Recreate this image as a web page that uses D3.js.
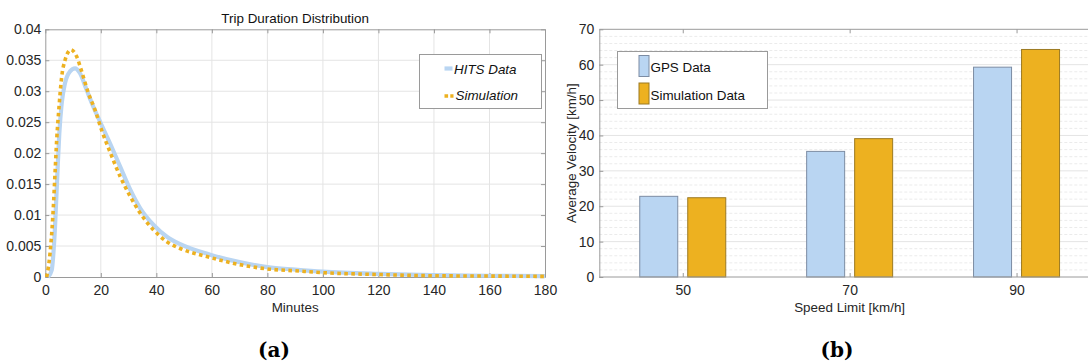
<!DOCTYPE html>
<html>
<head>
<meta charset="utf-8">
<script src="https://cdn.jsdelivr.net/npm/d3@7"></script>
<style>
  html, body { margin: 0; padding: 0; background: #fff; }
  svg { display: block; font-family: "Liberation Sans", Arial, sans-serif; }
  .axis path, .axis line { stroke: #9a9a9a; }
  .axis text { fill: #262626; font-size: 14px; font-family: "Liberation Sans", Arial, sans-serif; }
</style>
</head>
<body>
<svg id="fig" width="1088" height="363"></svg>
<script>
// ---- (a) Trip duration distribution ----
const hitsMinutes = [1.0, 2.3, 3.5, 4.35, 5.05, 5.9, 7.1, 8.9, 10.7, 12.5, 14.9, 17.3, 19.7, 23.3, 27, 30.6, 34.2, 39, 43.8, 48.6, 59.4, 70, 80, 90, 100, 120, 140, 160, 180];
const hitsDensity = [0, 0.0011, 0.0081, 0.0167, 0.0232, 0.0280, 0.0313, 0.0332, 0.0337, 0.0329, 0.0302, 0.0275, 0.0251, 0.0216, 0.0178, 0.0141, 0.0111, 0.0084, 0.0065, 0.0053, 0.0036, 0.0024, 0.0016, 0.0012, 0.00086, 0.0005, 0.0003, 0.0002, 0.00015];
const simMinutes = [0.5, 1.7, 2.7, 3.5, 4.1, 4.95, 5.9, 7.1, 9.2, 11.3, 13.1, 15.5, 17.9, 20.3, 23.3, 27, 30.6, 34.2, 39, 43.8, 48.6, 58.2, 70, 80, 90, 100, 120, 140, 160, 180];
const simDensity = [0, 0.0038, 0.0097, 0.0167, 0.0221, 0.0275, 0.0323, 0.0350, 0.0367, 0.0356, 0.0332, 0.0297, 0.0270, 0.0237, 0.0202, 0.0162, 0.0130, 0.0103, 0.0076, 0.0057, 0.0046, 0.0033, 0.0020, 0.0013, 0.0010, 0.0007, 0.0004, 0.0002, 0.00015, 0.0001];
const minuteTicks = [0, 20, 40, 60, 80, 100, 120, 140, 160, 180];
const densityTicks = [0, 0.005, 0.01, 0.015, 0.02, 0.025, 0.03, 0.035, 0.04];
const densityTickLabels = ["0", "0.005", "0.01", "0.015", "0.02", "0.025", "0.03", "0.035", "0.04"];
const lineSeriesNames = ["HITS Data", "Simulation"];

// ---- (b) Average velocity per speed limit ----
const speedLimits = ["50", "70", "90"];
const gpsVelocity = [22.8, 35.5, 59.3];
const simVelocity = [22.4, 39.1, 64.3];
const velocityTicks = [0, 10, 20, 30, 40, 50, 60, 70];
const barSeriesNames = ["GPS Data", "Simulation Data"];

const BLUE = "#b9d5f2";
const ORANGE = "#edb120";
const AXIS = "#9a9a9a";
const GRID = "#e4e4e4";
const LABEL_SIZE = 13.4;

const svg = d3.select("#fig");

// ===================== panel (a) =====================
const A = { left: 45.3, right: 545, top: 29.3, bottom: 277 };
const xA = d3.scaleLinear().domain([0, 180]).range([A.left, A.right]);
const yA = d3.scaleLinear().domain([0, 0.04]).range([A.bottom, A.top]);
const gA = svg.append("g");

// grid
gA.append("g").selectAll("line").data(minuteTicks.slice(1, -1)).join("line")
  .attr("x1", d => xA(d)).attr("x2", d => xA(d))
  .attr("y1", A.top).attr("y2", A.bottom)
  .attr("stroke", GRID).attr("stroke-width", 1);
gA.append("g").selectAll("line").data(densityTicks.slice(1, -1)).join("line")
  .attr("x1", A.left).attr("x2", A.right)
  .attr("y1", d => yA(d)).attr("y2", d => yA(d))
  .attr("stroke", GRID).attr("stroke-width", 1);

// axes with inward ticks, plus box edges
gA.append("g").attr("class", "axis").attr("transform", `translate(0,${A.bottom})`)
  .call(d3.axisBottom(xA).tickValues(minuteTicks).tickSize(-4).tickSizeOuter(0).tickPadding(8).tickFormat(d3.format("d")));
gA.append("g").attr("class", "axis").attr("transform", `translate(${A.left},0)`)
  .call(d3.axisLeft(yA).tickValues(densityTicks).tickSize(-4).tickSizeOuter(0).tickPadding(4)
    .tickFormat((d, i) => densityTickLabels[i]));
gA.append("g").attr("class", "axis").attr("transform", `translate(0,${A.top})`)
  .call(d3.axisTop(xA).tickValues(minuteTicks).tickSize(-4).tickSizeOuter(0).tickFormat(""));
gA.append("g").attr("class", "axis").attr("transform", `translate(${A.right},0)`)
  .call(d3.axisRight(yA).tickValues(densityTicks).tickSize(-4).tickSizeOuter(0).tickFormat(""));

// curves
const lineGen = d3.line().x(d => xA(d[0])).y(d => yA(d[1])).curve(d3.curveMonotoneX);
gA.append("path")
  .datum(d3.zip(hitsMinutes, hitsDensity))
  .attr("d", lineGen).attr("fill", "none")
  .attr("stroke", BLUE).attr("stroke-width", 4.2).attr("stroke-linejoin", "round");
gA.append("path")
  .datum(d3.zip(simMinutes, simDensity))
  .attr("d", lineGen).attr("fill", "none")
  .attr("stroke", ORANGE).attr("stroke-width", 3.6).attr("stroke-dasharray", "3.6,3.4");

// title and x label
gA.append("text").attr("x", (A.left + A.right) / 2).attr("y", 23)
  .attr("text-anchor", "middle").attr("font-size", LABEL_SIZE).attr("fill", "#111")
  .text("Trip Duration Distribution");
gA.append("text").attr("x", (A.left + A.right) / 2).attr("y", 312)
  .attr("text-anchor", "middle").attr("font-size", LABEL_SIZE).attr("fill", "#262626")
  .text("Minutes");

// legend
const legA = gA.append("g").attr("transform", "translate(419.5,54.5)");
legA.append("rect").attr("width", 122).attr("height", 54)
  .attr("fill", "#fff").attr("stroke", AXIS).attr("stroke-width", 1);
legA.append("line").attr("x1", 25).attr("x2", 33).attr("y1", 14).attr("y2", 14)
  .attr("stroke", BLUE).attr("stroke-width", 4.2);
legA.append("line").attr("x1", 25).attr("x2", 34).attr("y1", 41.5).attr("y2", 41.5)
  .attr("stroke", ORANGE).attr("stroke-width", 3.6).attr("stroke-dasharray", "3.6,2.2");
legA.selectAll("text.lab").data(lineSeriesNames).join("text")
  .attr("class", "lab")
  .attr("x", (d, i) => i === 0 ? 34.5 : 36)
  .attr("y", (d, i) => i === 0 ? 19.5 : 45.5)
  .attr("font-size", LABEL_SIZE).attr("font-style", "italic").attr("fill", "#111")
  .text(d => d);

// sub-caption
svg.append("text").attr("x", 274).attr("y", 357)
  .attr("text-anchor", "middle").attr("font-size", 20).attr("font-weight", "bold")
  .attr("font-family", "'DejaVu Serif', 'Liberation Serif', serif").attr("fill", "#000")
  .text("(a)");

// ===================== panel (b) =====================
const B = { left: 599.3, right: 1100, top: 29.3, bottom: 277 };
const xB = d3.scaleBand().domain(speedLimits).range([B.left, B.right]).paddingInner(0).paddingOuter(0);
const xSub = d3.scaleBand().domain(barSeriesNames).range([-43, 43]).paddingInner(0.2083).paddingOuter(0);
const yB = d3.scaleLinear().domain([0, 70]).range([B.bottom, B.top]);
const gB = svg.append("g");

// minor (dashed) and major grid
const minorTicks = d3.range(2, 70, 2).filter(v => v % 10 !== 0);
gB.append("g").selectAll("line").data(minorTicks).join("line")
  .attr("x1", B.left).attr("x2", B.right)
  .attr("y1", d => yB(d)).attr("y2", d => yB(d))
  .attr("stroke", "#ebebeb").attr("stroke-width", 1).attr("stroke-dasharray", "3,2");
gB.append("g").selectAll("line").data(velocityTicks.slice(1, -1)).join("line")
  .attr("x1", B.left).attr("x2", B.right)
  .attr("y1", d => yB(d)).attr("y2", d => yB(d))
  .attr("stroke", GRID).attr("stroke-width", 1);

// bars
const barRows = speedLimits.map((s, i) => [
  { cat: s, series: barSeriesNames[0], value: gpsVelocity[i] },
  { cat: s, series: barSeriesNames[1], value: simVelocity[i] }
]).flat();
const barFill = d3.scaleOrdinal().domain(barSeriesNames).range([BLUE, ORANGE]);
const barEdge = d3.scaleOrdinal().domain(barSeriesNames).range(["#7c8ca3", "#9c7a22"]);
gB.append("g").selectAll("rect").data(barRows).join("rect")
  .attr("x", d => xB(d.cat) + xB.bandwidth() / 2 + xSub(d.series))
  .attr("width", xSub.bandwidth())
  .attr("y", d => yB(d.value))
  .attr("height", d => yB(0) - yB(d.value))
  .attr("fill", d => barFill(d.series))
  .attr("stroke", d => barEdge(d.series)).attr("stroke-width", 1);

// axes
const xBcenter = d3.scalePoint().domain(speedLimits)
  .range([xB(speedLimits[0]) + xB.bandwidth() / 2, xB(speedLimits[2]) + xB.bandwidth() / 2]);
gB.append("g").attr("class", "axis").attr("transform", `translate(0,${B.bottom})`)
  .call(d3.axisBottom(xBcenter).tickSize(-4).tickSizeOuter(0).tickPadding(8))
  .call(g => g.select(".domain").attr("d", `M${B.left},0H${B.right}`));
gB.append("g").attr("class", "axis").attr("transform", `translate(0,${B.top})`)
  .call(d3.axisTop(xBcenter).tickSize(-4).tickSizeOuter(0).tickFormat(""))
  .call(g => g.select(".domain").attr("d", `M${B.left},0H${B.right}`));
gB.append("g").attr("class", "axis").attr("transform", `translate(${B.left},0)`)
  .call(d3.axisLeft(yB).tickValues(velocityTicks).tickSize(-4).tickSizeOuter(0).tickPadding(5).tickFormat(d3.format("d")));

// axis labels
gB.append("text").attr("x", (B.left + B.right) / 2).attr("y", 312)
  .attr("text-anchor", "middle").attr("font-size", LABEL_SIZE).attr("fill", "#262626")
  .text("Speed Limit [km/h]");
gB.append("text").attr("transform", `translate(576,${(B.top + B.bottom) / 2}) rotate(-90)`)
  .attr("text-anchor", "middle").attr("font-size", LABEL_SIZE).attr("fill", "#262626")
  .text("Average Velocity [km/h]");

// legend
const legB = gB.append("g").attr("transform", "translate(617.5,51.5)");
legB.append("rect").attr("width", 150).attr("height", 57)
  .attr("fill", "#fff").attr("stroke", AXIS).attr("stroke-width", 1);
legB.selectAll("rect.sw").data(barSeriesNames).join("rect")
  .attr("class", "sw")
  .attr("x", 21.5).attr("y", (d, i) => i === 0 ? 4 : 31.5)
  .attr("width", 10).attr("height", 21)
  .attr("fill", d => barFill(d)).attr("stroke", d => barEdge(d)).attr("stroke-width", 1);
legB.selectAll("text").data(barSeriesNames).join("text")
  .attr("x", 33).attr("y", (d, i) => i === 0 ? 20.5 : 48)
  .attr("font-size", LABEL_SIZE).attr("fill", "#111")
  .text(d => d);

// sub-caption
svg.append("text").attr("x", 837).attr("y", 357)
  .attr("text-anchor", "middle").attr("font-size", 20).attr("font-weight", "bold")
  .attr("font-family", "'DejaVu Serif', 'Liberation Serif', serif").attr("fill", "#000")
  .text("(b)");
</script>
</body>
</html>
